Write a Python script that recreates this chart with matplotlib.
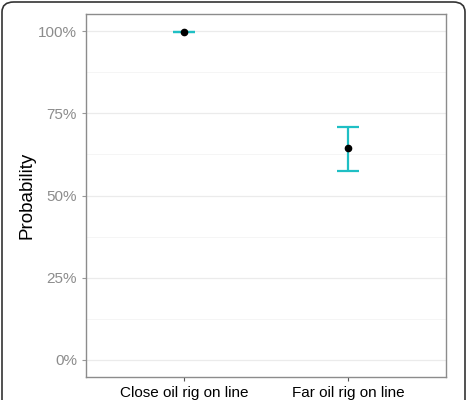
import matplotlib.pyplot as plt
from matplotlib.patches import FancyBboxPatch
from matplotlib.ticker import FuncFormatter, MultipleLocator

plt.rcParams['font.family'] = ['Liberation Sans', 'DejaVu Sans']

categories = ['Close oil rig on line', 'Far oil rig on line']
means = [0.997, 0.643]
lower = [0.996, 0.576]
upper = [0.998, 0.707]

fig = plt.figure(figsize=(4.69, 4.0), dpi=100)
ax = fig.add_axes([86 / 469, 23 / 400, 360 / 469, 363 / 400])

xs = list(range(1, len(categories) + 1))
yerr = [[m - l for m, l in zip(means, lower)], [u - m for m, u in zip(means, upper)]]
ax.errorbar(xs, means, yerr=yerr, fmt='none', ecolor='#1FBFC4', elinewidth=1.6,
            capsize=8, capthick=1.6, zorder=3)
ax.plot(xs, means, 'o', color='black', markersize=4.5, zorder=4)

ax.set_xlim(0.4, 2.6)
ax.set_ylim(-0.052, 1.052)
ax.set_xticks(xs)
ax.set_xticklabels(categories)
ax.yaxis.set_major_locator(MultipleLocator(0.25))
ax.yaxis.set_minor_locator(MultipleLocator(0.125))
ax.yaxis.set_major_formatter(FuncFormatter(lambda v, p: '{:.0f}%'.format(v * 100)))
ax.grid(which='major', axis='y', color='#EBEBEB', linewidth=0.9)
ax.grid(which='minor', axis='y', color='#F4F4F4', linewidth=0.6)
ax.set_axisbelow(True)
ax.tick_params(axis='y', which='minor', length=0)
ax.tick_params(axis='y', which='major', colors='#999999', labelsize=11, length=3, width=0.8)
ax.tick_params(axis='x', colors='#555555', labelcolor='black', labelsize=11, length=3, width=0.8)
ax.tick_params(axis='y', labelcolor='#8C8C8C')
for s in ax.spines.values():
    s.set_color('#8C8C8C')
    s.set_linewidth(1.0)
ax.set_ylabel('Probability', fontsize=13.5, labelpad=1.5)

frame = FancyBboxPatch((2 / 469, -0.05), 463 / 469, 1.05 - 2 / 400,
                       boxstyle='round,pad=0,rounding_size=0.025',
                       transform=fig.transFigure, fill=False,
                       edgecolor='#333333', linewidth=1.2, clip_on=False)
fig.patches.append(frame)

fig.savefig('out.png', dpi=100, facecolor='white')
